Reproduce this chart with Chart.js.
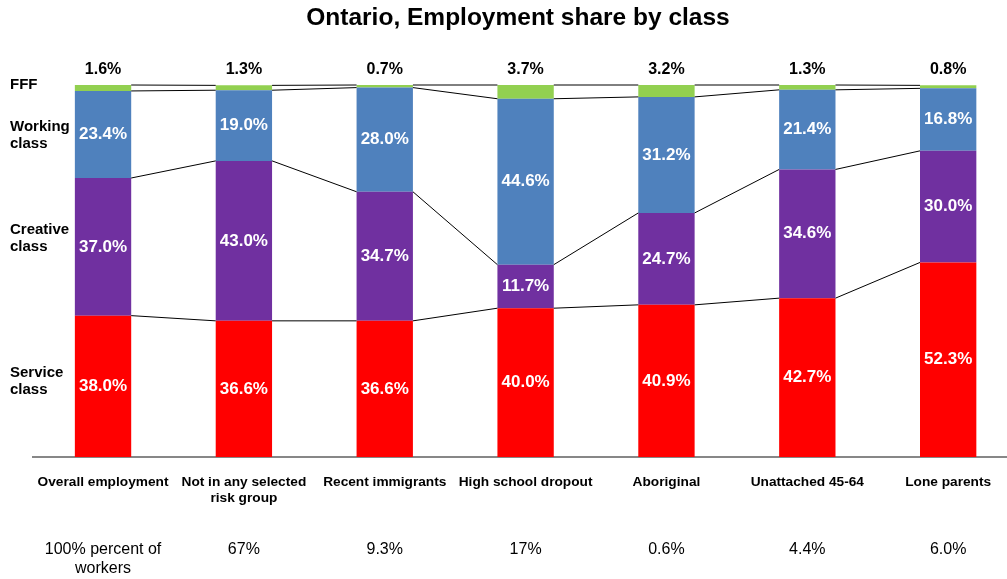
<!DOCTYPE html>
<html>
<head>
<meta charset="utf-8">
<script src="https://cdn.jsdelivr.net/npm/chart.js@4/dist/chart.umd.min.js"></script>
<style>
  html, body { margin: 0; padding: 0; background: #ffffff; overflow: hidden; }
  #wrap { width: 1007px; height: 579px; position: relative; overflow: hidden; }
  #c { display: block; }
</style>
</head>
<body>
<div id="wrap"><canvas id="c" width="1020" height="579"></canvas></div>
<script>
// Employment groups (x axis)
const categories = [
  ['Overall employment'],
  ['Not in any selected', 'risk group'],
  ['Recent immigrants'],
  ['High school dropout'],
  ['Aboriginal'],
  ['Unattached 45-64'],
  ['Lone parents']
];

// Share of each group's workers that fall in each class (%)
const serviceClass  = [38.0, 36.6, 36.6, 40.0, 40.9, 42.7, 52.3];
const creativeClass = [37.0, 43.0, 34.7, 11.7, 24.7, 34.6, 30.0];
const workingClass  = [23.4, 19.0, 28.0, 44.6, 31.2, 21.4, 16.8];
const fffClass      = [1.6, 1.3, 0.7, 3.7, 3.2, 1.3, 0.8];

// Group size as a share of all workers
const workerShare = [
  ['100% percent of', 'workers'],
  ['67%'],
  ['9.3%'],
  ['17%'],
  ['0.6%'],
  ['4.4%'],
  ['6.0%']
];

// Row captions on the left, one per class
const classCaptions = [
  ['FFF'],
  ['Working', 'class'],
  ['Creative', 'class'],
  ['Service', 'class']
];

const FONT = '"Liberation Sans", Arial, Helvetica, sans-serif';

// Connector lines joining the top of each segment across neighbouring bars,
// plus value labels, captions and the title.
const decorations = {
  id: 'decorations',
  afterDatasetsDraw(chart) {
    const ctx = chart.ctx;
    const area = chart.chartArea;
    const xs = chart.scales.x;
    const ys = chart.scales.y;

    // connectors
    ctx.save();
    ctx.strokeStyle = '#000000';
    ctx.lineWidth = 1;
    chart.data.datasets.forEach((ds, d) => {
      const els = chart.getDatasetMeta(d).data;
      for (let i = 0; i < els.length - 1; i++) {
        const a = els[i], b = els[i + 1];
        ctx.beginPath();
        ctx.moveTo(a.x + a.width / 2, a.y);
        ctx.lineTo(b.x - b.width / 2, b.y);
        ctx.stroke();
      }
    });
    ctx.restore();

    // value labels
    ctx.save();
    ctx.textAlign = 'center';
    ctx.textBaseline = 'middle';
    chart.data.datasets.forEach((ds, d) => {
      const els = chart.getDatasetMeta(d).data;
      els.forEach((el, i) => {
        const txt = ds.data[i].toFixed(1) + '%';
        if (ds.outsideLabel) {
          ctx.fillStyle = '#000000';
          ctx.font = 'bold 16px ' + FONT;
          ctx.fillText(txt, el.x, area.top - 15);
        } else {
          ctx.fillStyle = '#ffffff';
          ctx.font = 'bold 17px ' + FONT;
          ctx.fillText(txt, el.x, (el.y + el.base) / 2);
        }
      });
    });
    ctx.restore();

    // class captions on the left
    const captionAt = [100, 86.4, 58.9, 20.4];
    ctx.save();
    ctx.fillStyle = '#000000';
    ctx.font = 'bold 15px ' + FONT;
    ctx.textAlign = 'left';
    ctx.textBaseline = 'middle';
    classCaptions.forEach((lines, k) => {
      const cy = ys.getPixelForValue(captionAt[k]);
      const lh = 17;
      lines.forEach((ln, j) => {
        ctx.fillText(ln, 10, cy + (j - (lines.length - 1) / 2) * lh);
      });
    });
    ctx.restore();

    // category names and worker shares under the axis
    ctx.save();
    ctx.fillStyle = '#000000';
    ctx.textAlign = 'center';
    ctx.textBaseline = 'middle';
    categories.forEach((lines, i) => {
      const cx = xs.getPixelForValue(i);
      ctx.font = 'bold 13.7px ' + FONT;
      lines.forEach((ln, j) => ctx.fillText(ln, cx, 482 + j * 16));
      ctx.font = '16px ' + FONT;
      workerShare[i].forEach((ln, j) => ctx.fillText(ln, cx, 550 + j * 19));
    });
    ctx.restore();

    // title
    ctx.save();
    ctx.fillStyle = '#000000';
    ctx.font = 'bold 24.5px ' + FONT;
    ctx.textAlign = 'center';
    ctx.textBaseline = 'middle';
    ctx.fillText('Ontario, Employment share by class', 518, 18);
    ctx.restore();
  }
};

const labelsFlat = categories.map(l => l.join(' '));

new Chart(document.getElementById('c'), {
  type: 'bar',
  data: {
    labels: labelsFlat,
    datasets: [
      { label: 'Service class', data: serviceClass, backgroundColor: '#FF0000' },
      { label: 'Creative class', data: creativeClass, backgroundColor: '#7030A0' },
      { label: 'Working class', data: workingClass, backgroundColor: '#4F81BD' },
      { label: 'FFF', data: fffClass, backgroundColor: '#92D050', outsideLabel: true }
    ]
  },
  options: {
    responsive: false,
    animation: false,
    devicePixelRatio: 1,
    layout: { padding: { left: 32.6, right: 1.4, top: 85, bottom: 0 } },
    datasets: { bar: { categoryPercentage: 0.4, barPercentage: 1.0, borderWidth: 0 } },
    plugins: {
      legend: { display: false },
      title: { display: false },
      tooltip: { enabled: false }
    },
    scales: {
      x: {
        stacked: true,
        grid: { display: false, drawTicks: false },
        border: { display: true, color: '#878787', width: 2 },
        ticks: { display: false },
        afterFit(scale) { scale.height = 122; }
      },
      y: {
        stacked: true,
        display: false,
        min: 0,
        max: 100
      }
    }
  },
  plugins: [decorations]
});
</script>
</body>
</html>
